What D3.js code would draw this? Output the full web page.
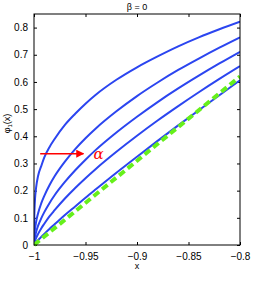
<!DOCTYPE html>
<html lang="en">
<head>
<meta charset="UTF-8">
<title>beta = 0</title>
<script src="https://cdn.jsdelivr.net/npm/d3@7"></script>
<style>
  * { margin: 0; box-sizing: border-box; }
  html, body { width: 265px; height: 284px; overflow: hidden; background: #fff; }
  svg text { font-family: "Liberation Sans", Arial, sans-serif; fill: #000; }
  .tick text { font-size: 10px; }
  .tick line { stroke: #000; }
  .domain { stroke: none; }
</style>
</head>
<body>
<svg id="svg"></svg>
<script>
// x positions shared by all curves
var xs = [-1, -0.9998, -0.9995, -0.999, -0.998, -0.996, -0.993, -0.99, -0.985, -0.98,
          -0.97, -0.96, -0.95, -0.94, -0.92, -0.90, -0.88, -0.86, -0.84, -0.82, -0.80];

// phi_1(x) for increasing alpha (top curve first)
var curve1 = [0, 0.09, 0.13, 0.17, 0.21, 0.255, 0.29, 0.322, 0.36, 0.39,
              0.442, 0.483, 0.520, 0.553, 0.608, 0.654, 0.694, 0.731, 0.764, 0.794, 0.822];
var curve2 = [0, 0.025, 0.043, 0.060, 0.084, 0.117, 0.153, 0.181, 0.220, 0.253,
              0.307, 0.353, 0.393, 0.429, 0.492, 0.548, 0.598, 0.644, 0.686, 0.726, 0.764];
var curve3 = [0, 0.012, 0.021, 0.031, 0.047, 0.071, 0.098, 0.121, 0.154, 0.183,
              0.232, 0.275, 0.314, 0.350, 0.414, 0.472, 0.526, 0.576, 0.623, 0.668, 0.711];
var curve4 = [0, 0.005, 0.009, 0.015, 0.025, 0.041, 0.061, 0.078, 0.105, 0.128,
              0.171, 0.210, 0.246, 0.280, 0.343, 0.402, 0.458, 0.511, 0.562, 0.611, 0.658];
var curve5 = [0, 0.001, 0.003, 0.005, 0.010, 0.018, 0.030, 0.041, 0.059, 0.076,
              0.110, 0.142, 0.174, 0.205, 0.266, 0.325, 0.383, 0.440, 0.496, 0.551, 0.606];
var blueCurves = [curve1, curve2, curve3, curve4, curve5];

// limiting straight line (green dashed)
var limitX = [-1, -0.8];
var limitY = [0, 0.62];

var xTicks = [-1, -0.95, -0.9, -0.85, -0.8];
var yTicks = [0, 0.1, 0.2, 0.3, 0.4, 0.5, 0.6, 0.7, 0.8];

// arrow marking the direction of growing alpha
var arrowX = [-0.994, -0.952];
var arrowY = 0.336;

var W = 265, H = 284,
    margin = { left: 34, top: 14, right: 25, bottom: 39 },
    pw = W - margin.left - margin.right,
    ph = H - margin.top - margin.bottom;

var svg = d3.select("#svg").attr("width", W).attr("height", H);
var g = svg.append("g").attr("transform", "translate(" + margin.left + "," + margin.top + ")");

var x = d3.scaleLinear().domain([-1, -0.8]).range([0, pw]);
var y = d3.scaleLinear().domain([0, 0.85]).range([ph, 0]);

var fmt = function(d) { return d3.format("")(d).replace("-", "\u2212"); };

// axes: ticks pointing inward, on all four sides
g.append("g").attr("transform", "translate(0," + ph + ")")
  .call(d3.axisBottom(x).tickValues(xTicks).tickSizeInner(-3).tickSizeOuter(0).tickPadding(8).tickFormat(fmt));
g.append("g")
  .call(d3.axisTop(x).tickValues(xTicks).tickSizeInner(-3).tickSizeOuter(0).tickFormat(""));
g.append("g")
  .call(d3.axisLeft(y).tickValues(yTicks).tickSizeInner(-3).tickSizeOuter(0).tickPadding(6).tickFormat(d3.format("")));
g.append("g").attr("transform", "translate(" + pw + ",0)")
  .call(d3.axisRight(y).tickValues(yTicks).tickSizeInner(-3).tickSizeOuter(0).tickFormat(""));

var clip = svg.append("defs").append("clipPath").attr("id", "clip");
clip.append("rect").attr("x", 0).attr("y", -2).attr("width", pw).attr("height", ph + 4);

var line = d3.line()
  .x(function(d) { return x(d[0]); })
  .y(function(d) { return y(d[1]); })
  .curve(d3.curveMonotoneX);

var plot = g.append("g").attr("clip-path", "url(#clip)");

plot.selectAll("path.blue")
  .data(blueCurves)
  .enter().append("path")
  .attr("class", "blue")
  .attr("fill", "none")
  .attr("stroke", "#2b45f0")
  .attr("stroke-width", 2)
  .attr("d", function(c) { return line(xs.map(function(v, i) { return [v, c[i]]; })); });

plot.append("path")
  .attr("fill", "none")
  .attr("stroke", "#66f01a")
  .attr("stroke-width", 4)
  .attr("stroke-dasharray", "7,4")
  .attr("d", d3.line()(limitX.map(function(v, i) { return [x(v), y(limitY[i])]; })));

// box
g.append("rect").attr("width", pw).attr("height", ph)
  .attr("fill", "none").attr("stroke", "#000").attr("stroke-width", 1);

// arrow + alpha
var defs = svg.select("defs");
defs.append("marker").attr("id", "head")
  .attr("viewBox", "0 0 10 10").attr("refX", 9).attr("refY", 5)
  .attr("markerWidth", 5).attr("markerHeight", 5).attr("orient", "auto")
  .append("path").attr("d", "M0,0 L10,5 L0,10 z").attr("fill", "#ff0000");

g.append("line")
  .attr("x1", x(arrowX[0])).attr("x2", x(arrowX[1]))
  .attr("y1", y(arrowY)).attr("y2", y(arrowY))
  .attr("stroke", "#ff0000").attr("stroke-width", 1.6)
  .attr("marker-end", "url(#head)");

g.append("text")
  .attr("x", x(arrowX[1]) + 10).attr("y", y(arrowY) + 5)
  .style("font-family", "'DejaVu Serif', serif")
  .style("font-style", "italic")
  .style("font-size", "15px")
  .style("fill", "#ff0000")
  .text("\u03b1");

// title and labels
svg.append("text")
  .attr("x", margin.left + pw / 2).attr("y", 10)
  .attr("text-anchor", "middle").style("font-size", "9px")
  .text("\u03b2 = 0");

svg.append("text")
  .attr("x", margin.left + pw / 2).attr("y", 269)
  .attr("text-anchor", "middle").style("font-size", "9px")
  .text("x");

var yl = svg.append("text")
  .attr("transform", "translate(10," + (margin.top + ph / 2 - 6) + ") rotate(-90)")
  .attr("text-anchor", "middle").style("font-size", "9px");
yl.append("tspan").text("\u03c6");
yl.append("tspan").attr("dy", 2).style("font-size", "6px").text("1");
yl.append("tspan").attr("dy", -2).text("(x)");
</script>
</body>
</html>
